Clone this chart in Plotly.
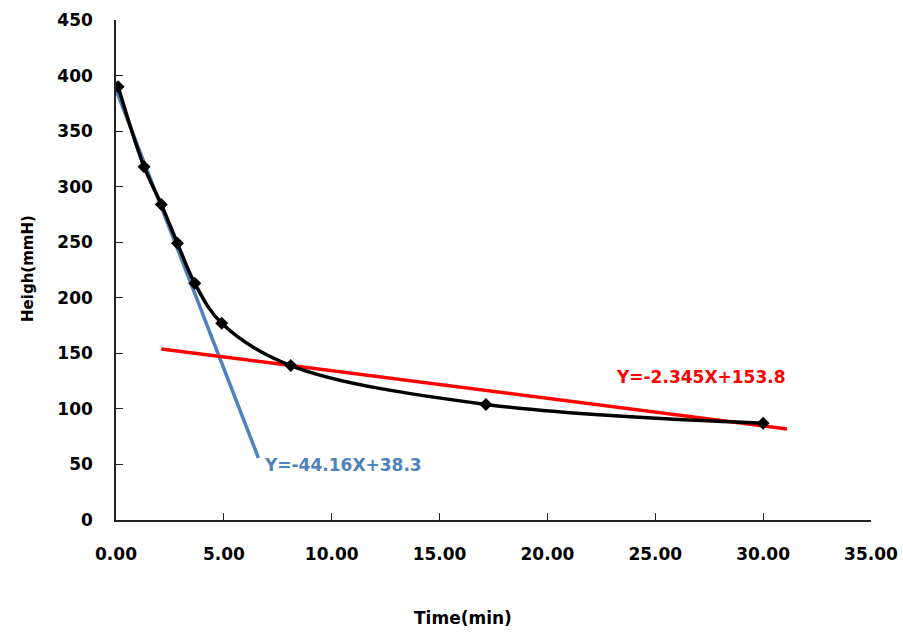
import plotly.graph_objects as go

# Measured data
time_min = [0.1, 1.3, 2.1, 2.85, 3.65, 4.9, 8.1, 17.15, 30.0]
height_mmh = [390, 318, 284, 249, 213, 177, 139, 104, 87]

# Tangent (fit) lines
blue_x = [0.0, 6.6]
blue_y = [387, 56]
red_x = [2.1, 31.1]
red_y = [154, 82]

x_ticks = [0, 5, 10, 15, 20, 25, 30, 35]
y_ticks = [0, 50, 100, 150, 200, 250, 300, 350, 400, 450]

FONT = "DejaVu Sans"

fig = go.Figure()
fig.add_trace(go.Scatter(x=blue_x, y=blue_y, mode="lines",
                         line=dict(color="#4F81BD", width=3.5), showlegend=False))
fig.add_trace(go.Scatter(x=red_x, y=red_y, mode="lines",
                         line=dict(color="#FF0000", width=3.5), showlegend=False))
fig.add_trace(go.Scatter(x=time_min, y=height_mmh, mode="lines+markers",
                         line=dict(color="black", width=3.5, shape="spline", smoothing=1),
                         marker=dict(symbol="diamond", size=10, color="black"),
                         showlegend=False))

fig.add_annotation(x=10.5, y=49.5, text="<b>Y=-44.16X+38.3</b>", showarrow=False,
                   font=dict(family=FONT, size=17, color="#4F81BD"))
fig.add_annotation(x=27.1, y=128.7, text="<b>Y=-2.345X+153.8</b>", showarrow=False,
                   font=dict(family=FONT, size=17, color="#FF0000"))

# Axis titles
fig.add_annotation(xref="paper", yref="paper", x=-0.1166, y=0.504,
                   xanchor="center", yanchor="middle",
                   text="<b>Heigh(mmH)</b>", textangle=-90, showarrow=False,
                   font=dict(family=FONT, size=15, color="black"))
fig.add_annotation(xref="paper", yref="paper", x=0.4596, y=-0.196,
                   xanchor="center", yanchor="middle",
                   text="<b>Time(min)</b>", showarrow=False,
                   font=dict(family=FONT, size=17, color="black"))

fig.update_layout(
    width=903, height=635,
    margin=dict(l=116, r=32, t=20, b=115, autoexpand=False),
    paper_bgcolor="white", plot_bgcolor="white",
    font=dict(family=FONT, size=17, color="black"),
    xaxis=dict(range=[0, 35], tickvals=x_ticks, tickformat=".2f", automargin=False,
               showgrid=False, zeroline=False, showline=True, linecolor="#222",
               linewidth=1.5, ticks="inside", ticklen=7, tickcolor="#222",
               tickfont=dict(family=FONT, size=17, weight="bold"),
               ticklabelstandoff=18),
    yaxis=dict(range=[0, 450], tickvals=y_ticks, automargin=False,
               showgrid=False, zeroline=False, showline=True, linecolor="#222",
               linewidth=1.5, ticks="inside", ticklen=7, tickcolor="#222",
               tickfont=dict(family=FONT, size=17, weight="bold"),
               ticklabelstandoff=18),
)

fig.write_html("out.html")
